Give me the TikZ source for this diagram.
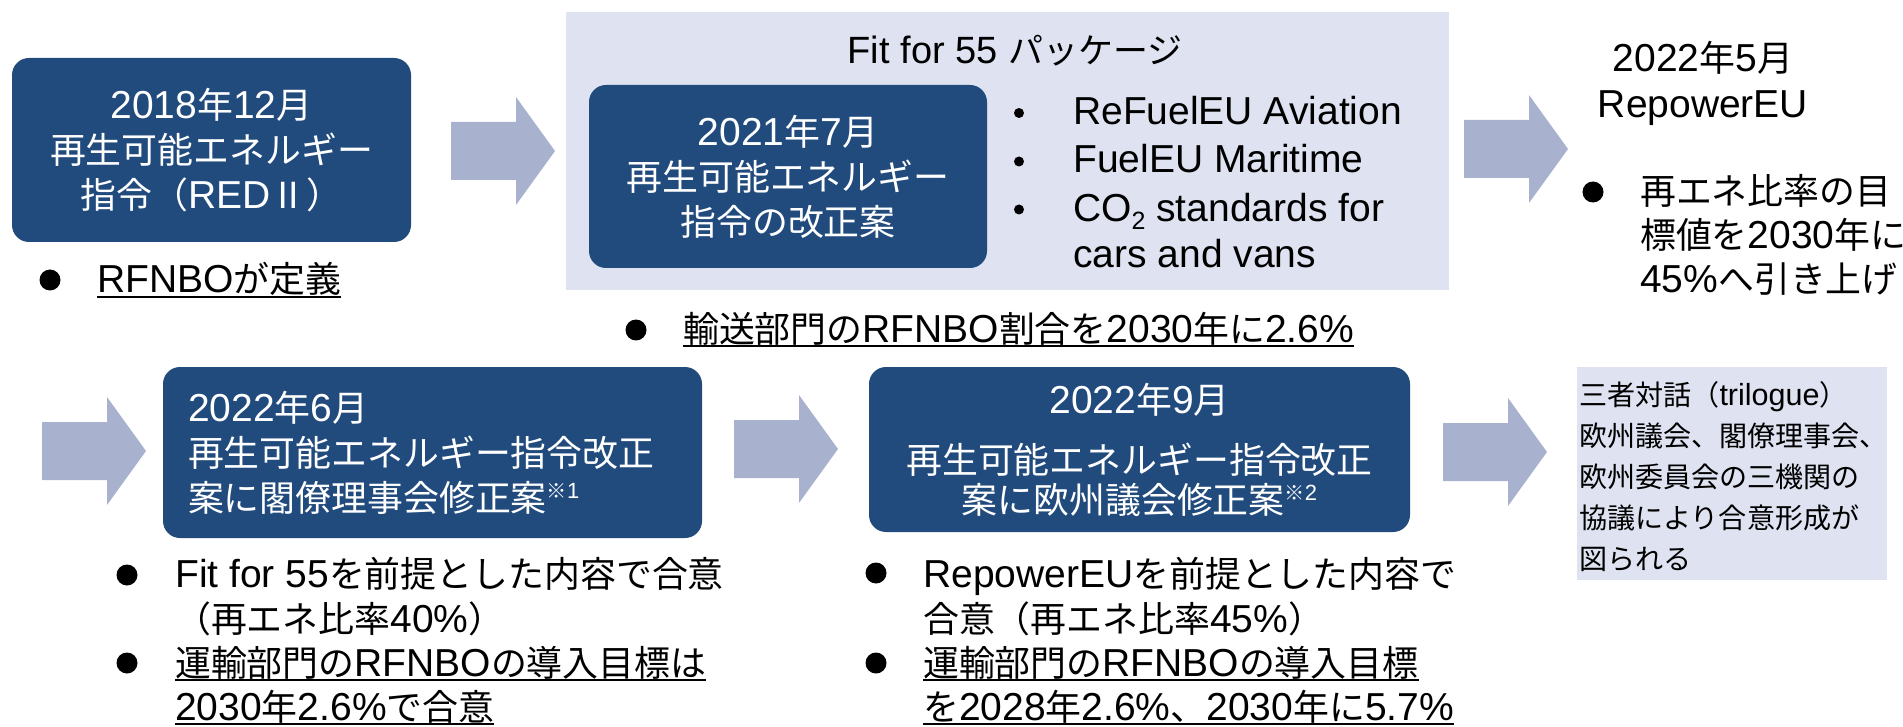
\documentclass[tikz,border=0pt]{standalone}
\usepackage{fontspec}
\setmainfont{Liberation Sans}
\newfontfamily\jpfont[Scale=0.92]{Noto Sans CJK JP}
\XeTeXinterchartokenstate=1
\ifdefined\newXeTeXintercharclass
  \newXeTeXintercharclass\jpclass
\else
  \chardef\jpclass=9
\fi
\newcount\jpcnt
\def\jpsetrange#1#2{\jpcnt=#1\relax
  \loop\XeTeXcharclass\jpcnt=\jpclass\relax
  \ifnum\jpcnt<#2\relax\advance\jpcnt by 1\relax\repeat}
\jpsetrange{"2160}{"217F}
\jpsetrange{"203B}{"203B}
\jpsetrange{"3000}{"30FF}
\jpsetrange{"4E00}{"9FFF}
\jpsetrange{"FF00}{"FFEF}
\XeTeXinterchartoks 0 \jpclass = {\jpfont}
\XeTeXinterchartoks 4095 \jpclass = {\jpfont}
\XeTeXinterchartoks \jpclass 0 = {\rmfamily}
\XeTeXinterchartoks \jpclass 4095 = {\rmfamily}

\definecolor{dblue}{RGB}{33,74,125}
\definecolor{arrowc}{RGB}{168,178,206}
\definecolor{panelc}{RGB}{223,226,240}

\newbox\ulbox
\newcommand\ulx[1]{\setbox\ulbox=\hbox{#1}\rlap{\rule[-5pt]{\wd\ulbox}{2pt}}\box\ulbox}
\newcommand\kome[1]{\raisebox{13pt}{\fontsize{22}{22}\selectfont ※#1}}

\tikzset{
  bluebox/.style={fill=dblue, rounded corners=17pt, text=white, inner sep=0pt,
    align=center, font=\fontsize{39}{45}\selectfont},
  panelbox/.style={fill=panelc, inner sep=0pt},
  txt/.style={inner sep=0pt, font=\fontsize{39}{45}\selectfont, align=left},
  bigdot/.style={circle, fill=black, inner sep=0pt, minimum size=21pt},
  smalldot/.style={circle, fill=black, inner sep=0pt, minimum size=10pt},
  pics/blockarrow/.style={code={
    \fill[arrowc] (0,-29) -- (65,-29) -- (65,-54) -- (104,0) -- (65,54) -- (65,29) -- (0,29) -- cycle;}}
}

\begin{document}
\begin{tikzpicture}[x=1pt,y=-1pt]
\useasboundingbox (0,0) rectangle (1903,727);

% ---------- top row ----------
\node[bluebox, minimum width=399pt, minimum height=184pt] (b1) at (211.5,150)
  {2018年12月\\再生可能エネルギー\\指令（REDⅡ）};
\node[bigdot] (d1) at (50,280) {};
\node[txt, anchor=base west] (t1) at (97,293) {\ulx{RFNBOが定義}};

\pic at (451,151) {blockarrow};

\node[panelbox, minimum width=883pt, minimum height=278pt] (pkg) at (1007.5,151) {};
\node[txt, anchor=base, font=\fontsize{38}{45}\selectfont] (pkgt) at (1015,64) {Fit for 55 パッケージ};
\node[bluebox, minimum width=398pt, minimum height=183pt] (b2) at (788,176.5)
  {2021年7月\\再生可能エネルギー\\指令の改正案};
\node[smalldot] (s1) at (1019,113) {};
\node[smalldot] (s2) at (1019,161.5) {};
\node[smalldot] (s3) at (1019,209.5) {};
\node[txt, anchor=base west] (p1) at (1073,125) {ReFuelEU Aviation};
\node[txt, anchor=base west] (p2) at (1073,173) {FuelEU Maritime};
\node[txt, anchor=base west, font=\fontsize{39}{46}\selectfont] (p3) at (1073,268)
  {CO\raisebox{-8pt}{\fontsize{25}{25}\selectfont 2} standards for\\cars and vans};

\node[bigdot] (d2) at (636,330) {};
\node[txt, anchor=base west] (t2) at (683,342) {\ulx{輸送部門のRFNBO割合を2030年に2.6\%}};

\pic at (1464,149) {blockarrow};

\node[txt, anchor=base, align=center, font=\fontsize{39}{46}\selectfont] (rp) at (1703,118)
  {2022年5月\\RepowerEU};
\node[bigdot] (d3) at (1593,192) {};
\node[txt, anchor=base west, font=\fontsize{39}{44}\selectfont] (t3) at (1640,293)
  {再エネ比率の目\\標値を2030年に\\45\%へ引き上げ};

% ---------- bottom row ----------
\pic at (42,451) {blockarrow};

\node[bluebox, minimum width=539pt, minimum height=171pt, text width=489pt, align=left] (b3) at (432.5,452.5)
  {2022年6月\\再生可能エネルギー指令改正\\案に閣僚理事会修正案\kome{1}};
\node[bigdot] (d4) at (127,575) {};
\node[txt, anchor=base west] (t4) at (175,632)
  {Fit for 55を前提とした内容で合意\\（再エネ比率40\%）};
\node[bigdot] (d5) at (127,663) {};
\node[txt, anchor=base west, font=\fontsize{39}{44}\selectfont] (t5) at (175,720)
  {\ulx{運輸部門のRFNBOの導入目標は}\\\ulx{2030年2.6\%で合意}};

\pic at (734,449) {blockarrow};

\node[bluebox, minimum width=541pt, minimum height=165pt, font=\fontsize{39}{40}\selectfont] (b4) at (1139.5,449.5)
  {2022年9月\\[20pt]再生可能エネルギー指令改正\\案に欧州議会修正案\kome{2}};
\node[bigdot] (d6) at (876,573) {};
\node[txt, anchor=base west] (t6) at (923,632)
  {RepowerEUを前提とした内容で\\合意（再エネ比率45\%）};
\node[bigdot] (d7) at (876,663) {};
\node[txt, anchor=base west, font=\fontsize{39}{44}\selectfont] (t7) at (923,720)
  {\ulx{運輸部門のRFNBOの導入目標}\\\ulx{を2028年2.6\%、2030年に5.7\%}};

\pic at (1443,452) {blockarrow};

\node[panelbox, minimum width=310pt, minimum height=213pt] (tri) at (1732,473.5) {};
\node[txt, anchor=base west, font=\fontsize{30.5}{41}\selectfont] (trit) at (1579,569)
  {三者対話（trilogue）\\欧州議会、閣僚理事会、\\欧州委員会の三機関の\\協議により合意形成が\\図られる};
\end{tikzpicture}
\end{document}
